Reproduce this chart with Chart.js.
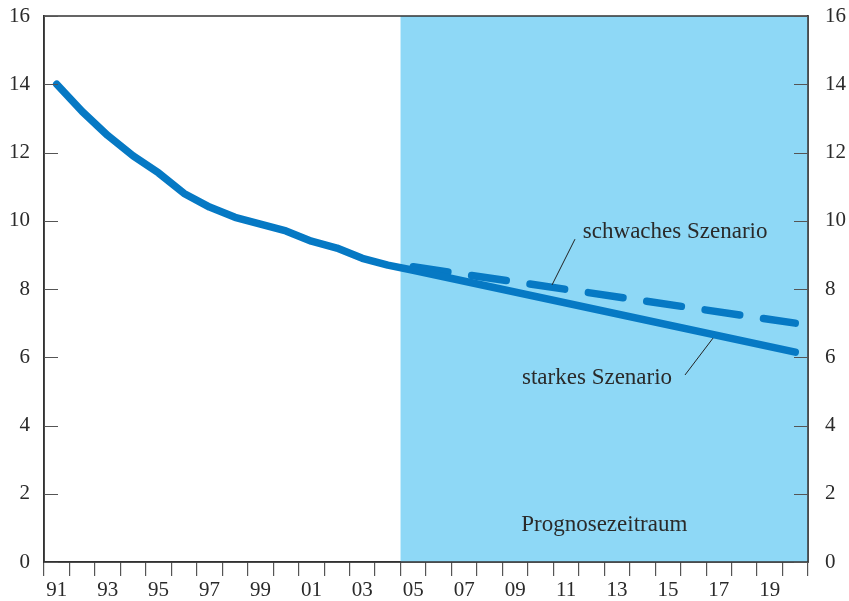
<!DOCTYPE html>
<html><head><meta charset="utf-8">
<script src="https://cdn.jsdelivr.net/npm/chart.js@4/dist/chart.umd.min.js"></script>
<style>html,body{margin:0;padding:0;background:#fff}#wrap{width:849px;height:601px}</style>
</head><body><div id="wrap"><canvas id="c" width="849" height="601"></canvas></div>
<script>
const years = [1991,1992,1993,1994,1995,1996,1997,1998,1999,2000,2001,2002,2003,2004,2005,2006,2007,2008,2009,2010,2011,2012,2013,2014,2015,2016,2017,2018,2019,2020];
const tickLabels = ['91','','93','','95','','97','','99','','01','','03','','05','','07','','09','','11','','13','','15','','17','','19',''];
// solid line: history 1991-2005, then straight "starkes Szenario" to 2020
const starkes = [14.0,13.2,12.5,11.9,11.4,10.8,10.4,10.1,9.9,9.7,9.4,9.2,8.9,8.7,8.55,null,null,null,null,null,null,null,null,null,null,null,null,null,null,6.15];
const schwaches = [null,null,null,null,null,null,null,null,null,null,null,null,null,null,8.65,null,null,null,null,null,null,null,null,null,null,null,null,null,null,7.0];
const yTicks = [0,2,4,6,8,10,12,14,16];
const forecastStart = 2004.5;

const FONT = '"Liberation Serif", "Times New Roman", serif';
const AX = '#333';
const LINE = '#0679c4';
const SHADE = '#8ed8f6';

const idxOf = y => y - years[0];

const deco = {
  id: 'deco',
  beforeDatasetsDraw(chart) {
    const {ctx, chartArea: a, scales: {x, y}} = chart;
    const left = x.getPixelForValue(idxOf(forecastStart));
    ctx.save();
    ctx.fillStyle = SHADE;
    ctx.fillRect(left, a.top, a.right - left, a.bottom - a.top);
    ctx.restore();
  },
  afterDatasetsDraw(chart) {
    const {ctx, chartArea: a, scales: {x, y}} = chart;
    ctx.save();
    ctx.strokeStyle = AX; ctx.lineWidth = 1.5;
    ctx.strokeRect(a.left, a.top, a.right - a.left, a.bottom - a.top);
    ctx.strokeStyle = '#555'; ctx.lineWidth = 1.2;
    yTicks.forEach(v => {
      const py = Math.round(y.getPixelForValue(v)) + 0.5;
      ctx.beginPath();
      ctx.moveTo(a.left, py); ctx.lineTo(a.left + 14, py);
      ctx.moveTo(a.right, py); ctx.lineTo(a.right - 14, py);
      ctx.stroke();
    });
    const P = (yr, v) => [x.getPixelForValue(idxOf(yr)), y.getPixelForValue(v)];
    ctx.strokeStyle = '#222'; ctx.lineWidth = 1;
    let p1 = P(2010.45, 8.12), p2 = P(2011.35, 9.46);
    ctx.beginPath(); ctx.moveTo(p1[0], p1[1]); ctx.lineTo(p2[0], p2[1]); ctx.stroke();
    p1 = P(2015.67, 5.48); p2 = P(2016.77, 6.56);
    ctx.beginPath(); ctx.moveTo(p1[0], p1[1]); ctx.lineTo(p2[0], p2[1]); ctx.stroke();
    ctx.fillStyle = '#2a2a2a';
    ctx.font = '23px ' + FONT;
    ctx.textBaseline = 'middle';
    ctx.textAlign = 'left';
    let t = P(2011.66, 9.67); ctx.fillText('schwaches Szenario', t[0], t[1]);
    t = P(2009.27, 5.39); ctx.fillText('starkes Szenario', t[0], t[1]);
    ctx.textAlign = 'center';
    t = P(2012.5, 1.1); ctx.fillText('Prognosezeitraum', t[0], t[1]);
    ctx.restore();
  }
};

const noPadV = s => { s.paddingTop = 0; s.paddingBottom = 0; };

new Chart(document.getElementById('c'), {
  type: 'line',
  data: {
    labels: years,
    datasets: [
      {label: 'starkes Szenario', data: starkes, borderColor: LINE, borderWidth: 7.5, pointRadius: 0, spanGaps: true, tension: 0, borderCapStyle: 'round', borderJoinStyle: 'round', fill: false},
      {label: 'schwaches Szenario', data: schwaches, borderColor: LINE, borderWidth: 7.5, pointRadius: 0, spanGaps: true, tension: 0, borderCapStyle: 'round', borderJoinStyle: 'round', borderDash: [35, 24], fill: false}
    ]
  },
  options: {
    responsive: false,
    animation: false,
    devicePixelRatio: 1,
    layout: {padding: {top: 16, left: 0, right: 0, bottom: 0}},
    plugins: {legend: {display: false}, tooltip: {enabled: false}},
    scales: {
      x: {
        type: 'category', offset: true,
        grid: {offset: true, drawOnChartArea: false, drawTicks: true, tickLength: 14, color: '#555', lineWidth: 1.2},
        border: {display: true, color: AX, width: 1.5},
        ticks: {autoSkip: false, maxRotation: 0, padding: 2, color: '#2a2a2a', font: {family: FONT, size: 21},
          callback: (v, i) => tickLabels[i]},
        afterFit: s => { s.height = 39; s.paddingLeft = 0; s.paddingRight = 0; }
      },
      y: {
        position: 'left', min: 0, max: 16,
        grid: {drawOnChartArea: false, drawTicks: false},
        border: {display: true, color: AX, width: 1.5},
        ticks: {stepSize: 2, padding: 14, color: '#2a2a2a', font: {family: FONT, size: 21}},
        afterFit: s => { s.width = 44; noPadV(s); }
      },
      y2: {
        position: 'right', min: 0, max: 16,
        grid: {drawOnChartArea: false, drawTicks: false},
        border: {display: true, color: AX, width: 1.5},
        ticks: {stepSize: 2, padding: 17, color: '#2a2a2a', font: {family: FONT, size: 21}},
        afterFit: s => { s.width = 41; noPadV(s); }
      }
    }
  },
  plugins: [deco]
});
</script>
</body></html>
